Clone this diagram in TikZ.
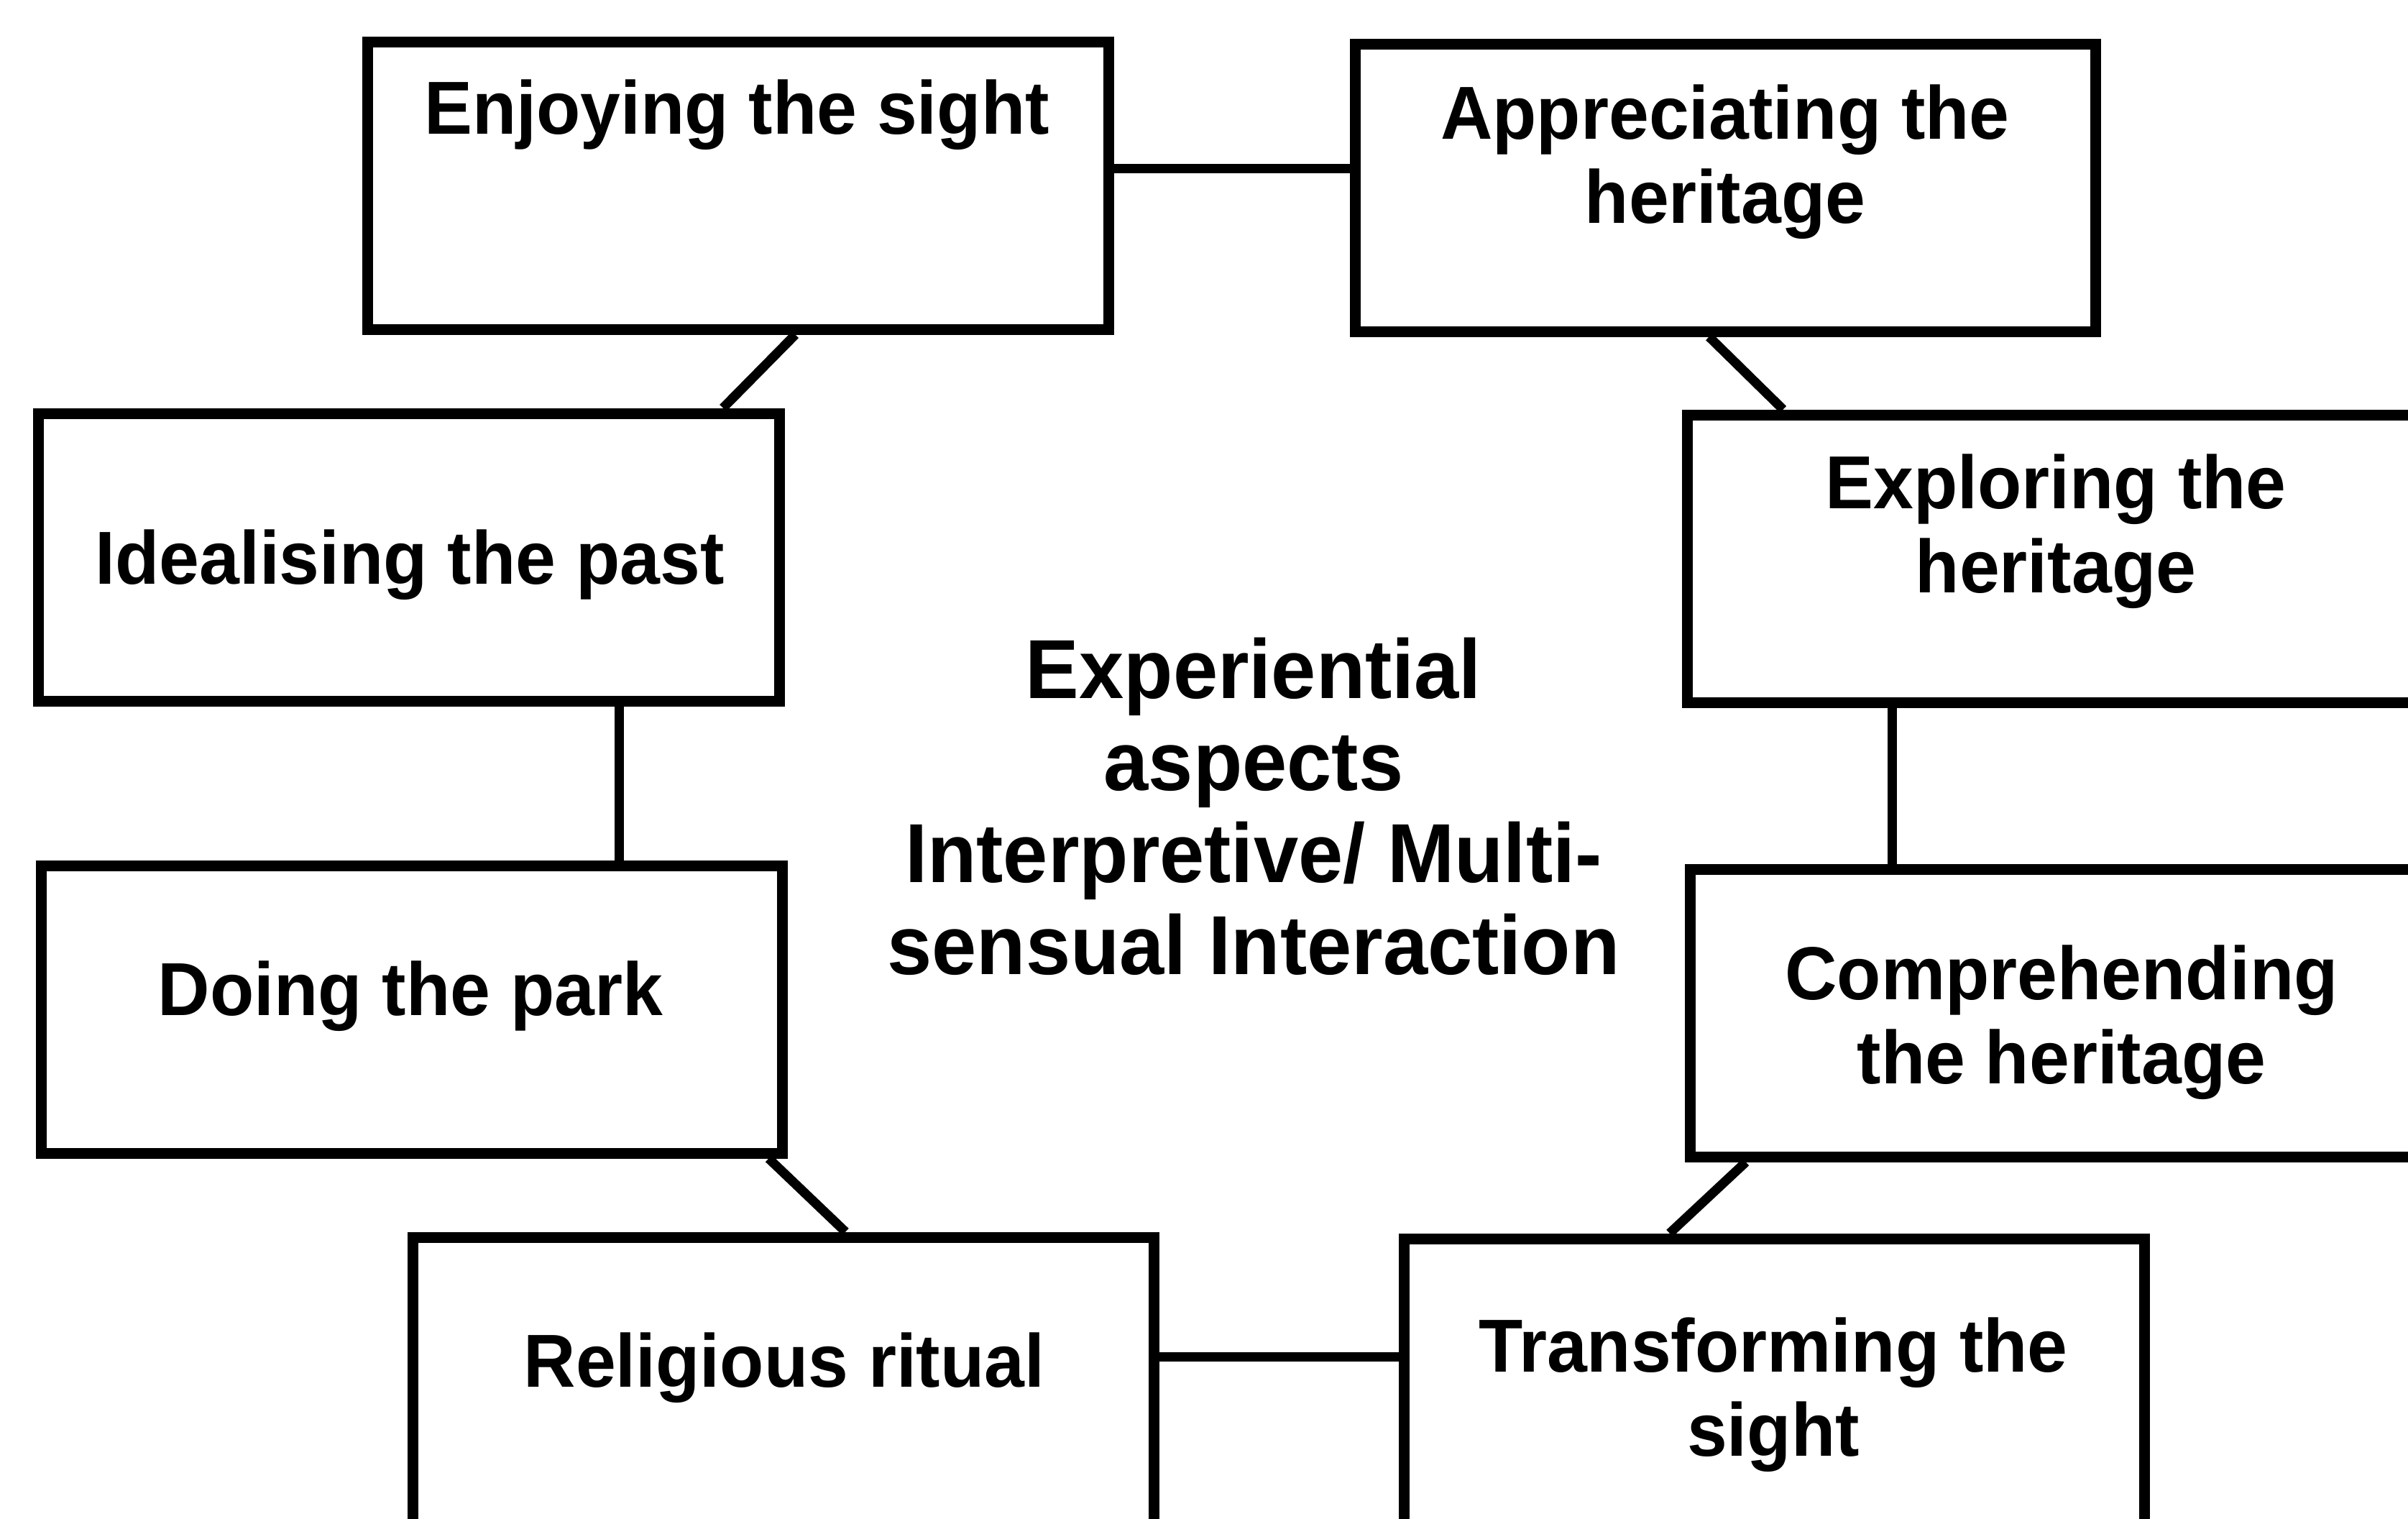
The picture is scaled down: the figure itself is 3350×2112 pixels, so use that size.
\documentclass[tikz,border=0pt]{standalone}
\usepackage{fontspec}
\setmainfont{Liberation Sans}[FakeStretch=0.96]
\usetikzlibrary{calc}
\begin{document}
\begin{tikzpicture}[x=0.2pt,y=-0.2pt,
  box/.style={draw=black, line width=3pt, rectangle, inner sep=0pt,
              minimum width=206pt, minimum height=80pt},
  link/.style={draw=black, line width=2.6pt},
  lbl/.style={font=\fontsize{20.9pt}{23.4pt}\selectfont\bfseries,
              align=center, anchor=base, inner sep=0pt},
  hub/.style={font=\fontsize{23.3pt}{25.6pt}\selectfont\bfseries,
              align=center, anchor=base, inner sep=0pt}]
\useasboundingbox (0,0) rectangle (3350,2112);
\clip (0,0) rectangle (3350,2112);
\fill[white] (0,0) rectangle (3350,2112);

% the eight experience boxes
\node[box] (b1) at (1027,258)  {};
\node[box] (b2) at (2400,261)  {};
\node[box] (b3) at (569,775)   {};
\node[box] (b4) at (2862,777)  {};
\node[box] (b5) at (573,1404)  {};
\node[box] (b6) at (2866,1409) {};
\node[box] (b7) at (1090,1921) {};
\node[box] (b8) at (2468,1923) {};

% box captions (anchored on the baseline of their last line)
\node[lbl] (t1) at (1025,186)  {Enjoying the sight};
\node[lbl] (t2) at (2400,310)  {Appreciating the\\heritage};
\node[lbl] (t3) at (570,812)   {Idealising the past};
\node[lbl] (t4) at (2860,824)  {Exploring the\\heritage};
\node[lbl] (t5) at (571,1412)  {Doing the park};
\node[lbl] (t6) at (2868,1507) {Comprehending\\the heritage};
\node[lbl] (t7) at (1091,1929) {Religious ritual};
\node[lbl] (t8) at (2467,2025) {Transforming the\\sight};

% central caption
\node[hub] (hub) at (1744,1355) {Experiential\\aspects\\Interpretive/ Multi-\\sensual Interaction};

% ring of connectors
\draw[link] ($(b1.north east)!0.4425!(b1.south east)$) coordinate (c12) -- (c12 -| b2.west);
\draw[link] ($(b1.south west)!0.576!(b1.south east)$) -- ($(b3.north west)!0.918!(b3.north east)$);
\draw[link] ($(b3.south west)!0.78!(b3.south east)$) coordinate (c35) -- (c35 |- b5.north);
\draw[link] ($(b5.south west)!0.975!(b5.south east)$) -- ($(b7.north west)!0.5825!(b7.north east)$);
\draw[link] ($(b7.north east)!0.42!(b7.south east)$) coordinate (c78) -- (c78 -| b8.west);
\draw[link] ($(b8.north west)!0.361!(b8.north east)$) -- ($(b6.south west)!0.0816!(b6.south east)$);
\draw[link] ($(b6.north west)!0.2767!(b6.north east)$) coordinate (c64) -- (c64 |- b4.south);
\draw[link] ($(b4.north west)!0.135!(b4.north east)$) -- ($(b2.south west)!0.4786!(b2.south east)$);
\end{tikzpicture}
\end{document}
